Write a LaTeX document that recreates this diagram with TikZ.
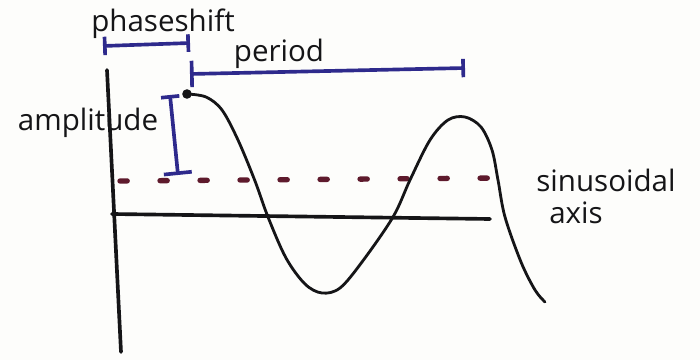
\documentclass[tikz,border=0pt]{standalone}
\usepackage{fontspec}
\setmainfont{Open Sans}
\usetikzlibrary{positioning,arrows.meta}
\definecolor{ink}{HTML}{151517}
\definecolor{pen}{HTML}{2E2A8C}
\definecolor{wine}{HTML}{5E1A2C}
\definecolor{paper}{HTML}{FDFDFB}

\begin{document}
\begin{tikzpicture}[x=0.025cm, y=-0.025cm,
      axisline/.style={line width=2.6pt, color=ink, line cap=round},
      wave/.style={line width=2pt, color=ink, line cap=round},
      midline/.style={line width=3.8pt, color=wine, line cap=round,
                      dash pattern=on 0.18cm off 0.82cm},
      span/.style={line width=2.6pt, color=pen},
      tag/.style={font=\fontsize{21}{23}\selectfont, text=ink, inner sep=0pt},
      dotnode/.style={circle, fill=ink, minimum size=2.4mm, inner sep=0pt},
    ]
      \fill[paper] (0,0) rectangle (700,360);
      \useasboundingbox (0,0) rectangle (700,360);

      % axes
      \coordinate (ytop) at (107,70);
      \coordinate (ybot) at (121,352);
      \coordinate (xleft) at (112,214);
      \coordinate (xright) at (490,219);
      \draw[axisline] (ytop) -- (ybot);
      \draw[axisline] (xleft) -- (xright);

      % sinusoidal axis
      \coordinate (mleft) at (120,181);
      \coordinate (mright) at (500,178);
      \draw[midline] (mleft) -- (mright);

      % the wave
      \node[dotnode] (peak) at (187,94) {};
      \draw[wave] (peak.center) plot[smooth, tension=0.55] coordinates {
        (187,94) (206,97) (222,110) (238,140) (255,181) (268,217)
        (286,258) (305,284) (322,293) (340,288) (362,262) (393,217)
        (410,180) (430,140) (448,120) (465,117) (481,127) (492,150)
        (498,180) (505,217) (521,262) (535,290) (545,302)};

      % phase shift
      \coordinate (psleft) at (103,46);
      \coordinate (psright) at (190,43);
      \draw[span, {Bar[width=4.6mm]}-{Bar[width=4.4mm]}] (psleft) -- (psright);
      \node[tag] (phaseshift) at (163,24) {phaseshift};

      % period
      \coordinate (prleft) at (190,74);
      \coordinate (prright) at (465,68);
      \draw[span, {Bar[width=6.6mm]}-{Bar[width=4.6mm]}] (prleft) -- (prright);
      \node[tag] (period) at (279,54) {period};

      % amplitude
      \coordinate (amtop) at (170,95);
      \coordinate (ambot) at (178,175);
      \draw[span, {Bar[width=4.6mm]}-{Bar[width=7mm]}] (amtop) -- (ambot);
      \node[tag] (amplitude) at (88,123) {amplitude};

      % labels on the right
      \node[tag] (sinusoidal) at (606,180) {sinusoidal};
      \node[tag, below=7pt of sinusoidal, xshift=-0.75cm] (axis) {axis};
    \end{tikzpicture}
\end{document}
